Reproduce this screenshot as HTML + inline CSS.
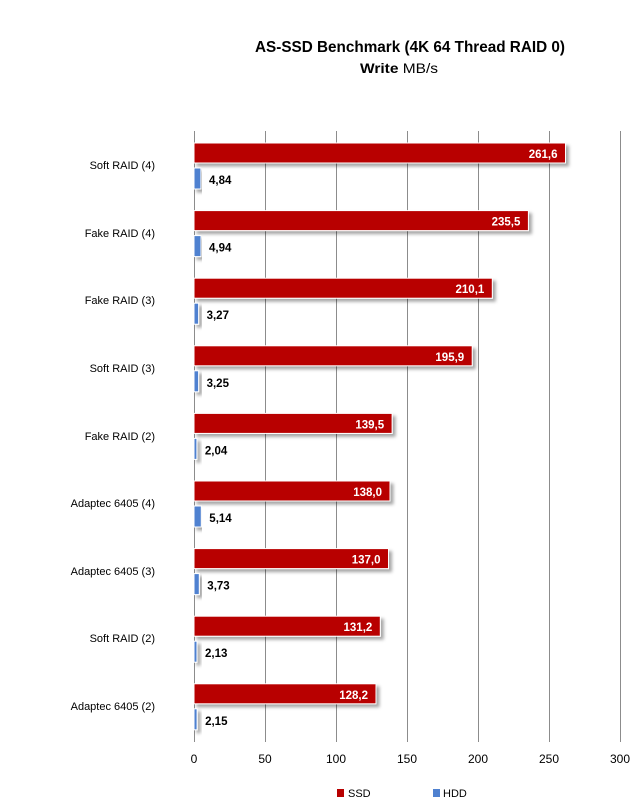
<!DOCTYPE html>
<html><head><meta charset="utf-8"><style>
html,body{margin:0;padding:0;background:#fff;}
svg{display:block;font-family:"Liberation Sans",sans-serif;}
</style></head><body>
<svg width="640" height="805" viewBox="0 0 640 805" xmlns="http://www.w3.org/2000/svg">
<defs>
<filter id="sh" x="-5%" y="-20%" width="110%" height="160%">
<feDropShadow dx="3" dy="3" stdDeviation="1.5" flood-color="#000" flood-opacity="0.35"/>
</filter>
</defs>
<text x="255" y="52" font-size="16" font-weight="bold" fill="#000" textLength="310" lengthAdjust="spacingAndGlyphs">AS-SSD Benchmark (4K 64 Thread RAID 0)</text>
<text x="360" y="73" font-size="14" textLength="78" lengthAdjust="spacingAndGlyphs"><tspan font-weight="bold">Write</tspan> MB/s</text>
<g stroke="#8c8c8c" stroke-width="1">
<line x1="265.5" y1="131" x2="265.5" y2="742"/>
<line x1="336.5" y1="131" x2="336.5" y2="742"/>
<line x1="407.5" y1="131" x2="407.5" y2="742"/>
<line x1="478.5" y1="131" x2="478.5" y2="742"/>
<line x1="549.5" y1="131" x2="549.5" y2="742"/>
<line x1="620.5" y1="131" x2="620.5" y2="742"/>
<line x1="194.5" y1="131" x2="194.5" y2="742"/>
</g>
<g font-size="11" fill="#000" text-anchor="end">
<text x="155" y="169">Soft RAID (4)</text>
<text x="155" y="237">Fake RAID (4)</text>
<text x="155" y="304">Fake RAID (3)</text>
<text x="155" y="372">Soft RAID (3)</text>
<text x="155" y="440">Fake RAID (2)</text>
<text x="155" y="507">Adaptec 6405 (4)</text>
<text x="155" y="575">Adaptec 6405 (3)</text>
<text x="155" y="642">Soft RAID (2)</text>
<text x="155" y="710">Adaptec 6405 (2)</text>
</g>
<g fill="#b80000" stroke="#fff" stroke-width="1" filter="url(#sh)">
<rect x="194" y="143" width="371.5" height="20"/>
<rect x="194" y="210.6" width="334.4" height="20"/>
<rect x="194" y="278.2" width="298.3" height="20"/>
<rect x="194" y="345.8" width="278.2" height="20"/>
<rect x="194" y="413.4" width="198.1" height="20"/>
<rect x="194" y="481" width="196" height="20"/>
<rect x="194" y="548.6" width="194.5" height="20"/>
<rect x="194" y="616.2" width="186.3" height="20"/>
<rect x="194" y="683.8" width="182" height="20"/>
</g>
<g fill="#4f81d0" stroke="#fff" stroke-width="1" filter="url(#sh)">
<rect x="194" y="168" width="6.9" height="21"/>
<rect x="194" y="235.6" width="7" height="21"/>
<rect x="194" y="303.2" width="4.6" height="21"/>
<rect x="194" y="370.8" width="4.6" height="21"/>
<rect x="194" y="438.4" width="2.9" height="21"/>
<rect x="194" y="506" width="7.3" height="21"/>
<rect x="194" y="573.6" width="5.3" height="21"/>
<rect x="194" y="641.2" width="3" height="21"/>
<rect x="194" y="708.8" width="3.1" height="21"/>
</g>
<g font-size="11.5" font-weight="bold" fill="#fff" text-anchor="end">
<text x="557.5" y="158">261,6</text>
<text x="520.4" y="225.6">235,5</text>
<text x="484.3" y="293.2">210,1</text>
<text x="464.2" y="360.8">195,9</text>
<text x="384.1" y="428.4">139,5</text>
<text x="382" y="496">138,0</text>
<text x="380.5" y="563.6">137,0</text>
<text x="372.3" y="631.2">131,2</text>
<text x="368" y="698.8">128,2</text>
</g>
<g font-size="11.5" font-weight="bold" fill="#000">
<text x="209" y="184">4,84</text>
<text x="209" y="251.6">4,94</text>
<text x="206.6" y="319.2">3,27</text>
<text x="206.6" y="386.8">3,25</text>
<text x="204.9" y="454.4">2,04</text>
<text x="209.3" y="522">5,14</text>
<text x="207.3" y="589.6">3,73</text>
<text x="205" y="657.2">2,13</text>
<text x="205.1" y="724.8">2,15</text>
</g>
<g font-size="12" text-anchor="middle" fill="#000">
<text x="194" y="763">0</text><text x="265" y="763">50</text><text x="336" y="763">100</text>
<text x="407" y="763">150</text><text x="478" y="763">200</text><text x="549" y="763">250</text><text x="620" y="763">300</text>
</g>
<rect x="337" y="789" width="7" height="8" fill="#b80000"/>
<text x="348" y="797" font-size="11">SSD</text>
<rect x="433" y="789" width="7" height="8" fill="#4f81d0"/>
<text x="443" y="797" font-size="11">HDD</text>
</svg>
</body></html>
